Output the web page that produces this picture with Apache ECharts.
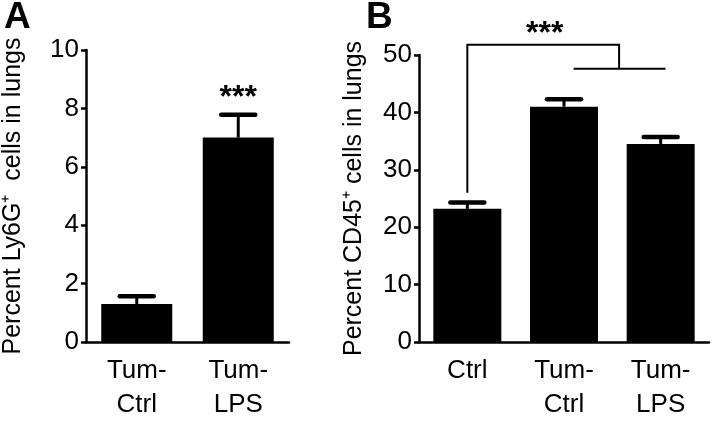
<!DOCTYPE html>
<html><head><meta charset="utf-8">
<script src="https://cdn.jsdelivr.net/npm/echarts@6/dist/echarts.min.js"></script>
<style>html,body{margin:0;padding:0;background:#fff}#c{width:712px;height:422px}</style>
</head><body><div id="c"></div>
<script>
// Panel A
const catsA = ['Tum-\nCtrl', 'Tum-\nLPS'];
const valsA = [1.3, 7.0];
const errA = [0.27, 0.78];
const ticksA = [0, 2, 4, 6, 8, 10];
const starsA = [[1, 8.35, '***']];
// Panel B
const catsB = ['Ctrl', 'Tum-\nCtrl', 'Tum-\nLPS'];
const valsB = [23.2, 41.0, 34.5];
const errB = [1.1, 1.3, 1.2];
const ticksB = [0, 10, 20, 30, 40, 50];
const starsB = [[0.8, 53.6, '***']];
// significance bracket in B: [category position, value] points for each segment
const bracketB = [
  [[0, 26], [0, 51.8], [1.57, 51.8], [1.57, 47.6]],
  [[1.1, 47.6], [2.05, 47.6]]
];

const FONT = "'Liberation Sans', Arial, sans-serif";
const chart = echarts.init(document.getElementById('c'), null, {renderer: 'canvas'});

function pos(api, c, v) {
  const i = Math.floor(c);
  const p = api.coord([i, v]);
  const bw = api.size([1, 0])[0];
  return [p[0] + (c - i) * bw, p[1]];
}

function errRender(params, api) {
  const base = api.coord([api.value(0), api.value(1)]);
  const top = api.coord([api.value(0), api.value(1) + api.value(2)]);
  const half = 17;
  return {type: 'group', children: [
    {type: 'line', shape: {x1: base[0], y1: base[1], x2: top[0], y2: top[1]}, style: {stroke: '#000', lineWidth: 3}},
    {type: 'line', shape: {x1: top[0] - half, y1: top[1], x2: top[0] + half, y2: top[1]}, style: {stroke: '#000', lineWidth: 4.5, lineCap: 'round'}}
  ]};
}

function starRender(params, api) {
  const p = pos(api, api.value(0), api.value(1));
  return {type: 'text', x: p[0], y: p[1], style: {text: '***', fill: '#000', font: 'bold 32px ' + FONT, align: 'center', verticalAlign: 'middle'}};
}

function bracketRender(params, api) {
  const seg = bracketB[params.dataIndex];
  const pts = seg.map(q => pos(api, q[0], q[1]));
  return {type: 'polyline', shape: {points: pts}, style: {stroke: '#000', lineWidth: 2, fill: null}};
}

const yAxisCommon = {
  type: 'value',
  nameLocation: 'middle',
  nameTextStyle: {fontSize: 25, color: '#000', fontFamily: FONT},
  axisLine: {show: true, lineStyle: {color: '#000', width: 2.5}},
  axisTick: {show: true, length: 5, lineStyle: {color: '#000', width: 2.5}},
  axisLabel: {fontSize: 26, color: '#000', fontFamily: FONT, margin: 7},
  splitLine: {show: false}
};
const xAxisCommon = {
  type: 'category',
  axisLine: {lineStyle: {color: '#000', width: 2.5}},
  axisTick: {alignWithLabel: true, length: 10, lineStyle: {color: '#000', width: 2.5}},
  axisLabel: {fontSize: 26, lineHeight: 34, color: '#000', fontFamily: FONT, margin: 12, interval: 0}
};

chart.setOption({
  animation: false,
  backgroundColor: '#fff',
  graphic: [
    {type: 'text', left: 4, top: -1, style: {text: 'A', font: 'bold 37px ' + FONT, fill: '#000'}},
    {type: 'text', left: 366, top: -1, style: {text: 'B', font: 'bold 37px ' + FONT, fill: '#000'}}
  ],
  grid: [
    {left: 80, top: 50, width: 209, height: 293},
    {left: 419, top: 55, width: 290, height: 288}
  ],
  xAxis: [
    Object.assign({}, xAxisCommon, {gridIndex: 0, data: catsA}),
    Object.assign({}, xAxisCommon, {gridIndex: 1, data: catsB})
  ],
  yAxis: [
    Object.assign({}, yAxisCommon, {gridIndex: 0, min: ticksA[0], max: ticksA[ticksA.length - 1], interval: ticksA[1] - ticksA[0],
      name: 'Percent Ly6G\u207A  cells in lungs', nameGap: 60}),
    Object.assign({}, yAxisCommon, {gridIndex: 1, min: ticksB[0], max: ticksB[ticksB.length - 1], interval: ticksB[1] - ticksB[0],
      name: 'Percent CD45\u207A cells in lungs', nameGap: 52})
  ],
  series: [
    {type: 'bar', xAxisIndex: 0, yAxisIndex: 0, data: valsA, barWidth: 71, itemStyle: {color: '#000'}, z: 2},
    {type: 'custom', xAxisIndex: 0, yAxisIndex: 0, renderItem: errRender, data: valsA.map((v, i) => [i, v, errA[i]]), z: 1, clip: false},
    {type: 'custom', xAxisIndex: 0, yAxisIndex: 0, renderItem: starRender, data: starsA, clip: false},
    {type: 'bar', xAxisIndex: 1, yAxisIndex: 1, data: valsB, barWidth: 68, itemStyle: {color: '#000'}, z: 2},
    {type: 'custom', xAxisIndex: 1, yAxisIndex: 1, renderItem: errRender, data: valsB.map((v, i) => [i, v, errB[i]]), z: 1, clip: false},
    {type: 'custom', xAxisIndex: 1, yAxisIndex: 1, renderItem: starRender, data: starsB, clip: false},
    {type: 'custom', xAxisIndex: 1, yAxisIndex: 1, renderItem: bracketRender, data: bracketB.map((s, i) => [i, 0]), clip: false}
  ]
});
</script></body></html>
